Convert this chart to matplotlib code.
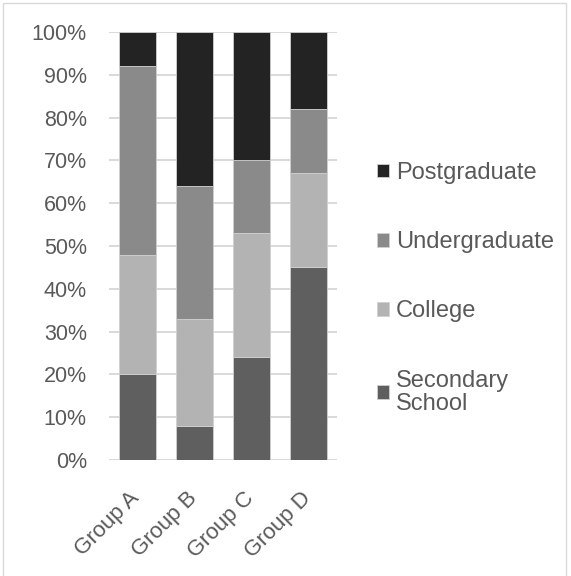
import matplotlib.pyplot as plt
from matplotlib.patches import Rectangle
import matplotlib.transforms as mtransforms
import numpy as np

plt.rcParams['font.family'] = ['Liberation Sans', 'DejaVu Sans']

groups = ["Group A", "Group B", "Group C", "Group D"]
secondary = [20, 8, 24, 45]
college = [28, 25, 29, 22]
undergraduate = [44, 31, 17, 15]
postgraduate = [8, 36, 30, 18]

series = [
    ("Secondary\nSchool", secondary, "#5f5f5f"),
    ("College", college, "#b3b3b3"),
    ("Undergraduate", undergraduate, "#8a8a8a"),
    ("Postgraduate", postgraduate, "#232323"),
]

text_color = "#595959"

fig = plt.figure(figsize=(5.71, 5.76), dpi=100)
ax = fig.add_axes([109 / 571, 1 - 460 / 576, 228 / 571, 428 / 576])

x = np.arange(len(groups))
bottom = np.zeros(len(groups))
handles = []
for name, vals, color in series:
    bars = ax.bar(x, vals, width=0.65, bottom=bottom, color=color,
                  edgecolor="#d0d0d0", linewidth=0.6, label=name, zorder=3)
    handles.append(bars)
    bottom += np.array(vals)

ax.set_xlim(-0.5, 3.5)
ax.set_ylim(0, 100)
ax.set_yticks(np.arange(0, 101, 10))
ax.set_yticklabels([f"{v}%" for v in range(0, 101, 10)])
ax.yaxis.grid(True, color="#d9d9d9", linewidth=1.4, zorder=0)
ax.set_axisbelow(True)
for s in ax.spines.values():
    s.set_visible(False)
ax.tick_params(axis="y", length=0, labelsize=15.5, labelcolor=text_color, pad=16)
ax.set_xticks(x)
ax.set_xticklabels(groups, rotation=45, ha="right", rotation_mode="anchor")
ax.tick_params(axis="x", length=0, labelsize=16, labelcolor=text_color, pad=20)
shift = mtransforms.ScaledTranslation(-6 / 72, 0, fig.dpi_scale_trans)
for lbl in ax.get_xticklabels():
    lbl.set_transform(lbl.get_transform() + shift)

leg = fig.legend(handles[::-1], [s[0] for s in series][::-1],
                 loc="upper left", bbox_to_anchor=(377 / 571, 1 - 162 / 576),
                 frameon=False, fontsize=17, labelspacing=2.0,
                 borderpad=0, borderaxespad=0,
                 handlelength=0.5, handleheight=0.5, handletextpad=0.3)
for t in leg.get_texts():
    t.set_color(text_color)
    t.set_linespacing(1.05)

fig.patches.append(Rectangle((3 / 571, -0.1), 563 / 571, 1.1 - 3 / 576,
                             transform=fig.transFigure, fill=False,
                             edgecolor="#d9d9d9", linewidth=1))

fig.savefig("out.png", dpi=100)
